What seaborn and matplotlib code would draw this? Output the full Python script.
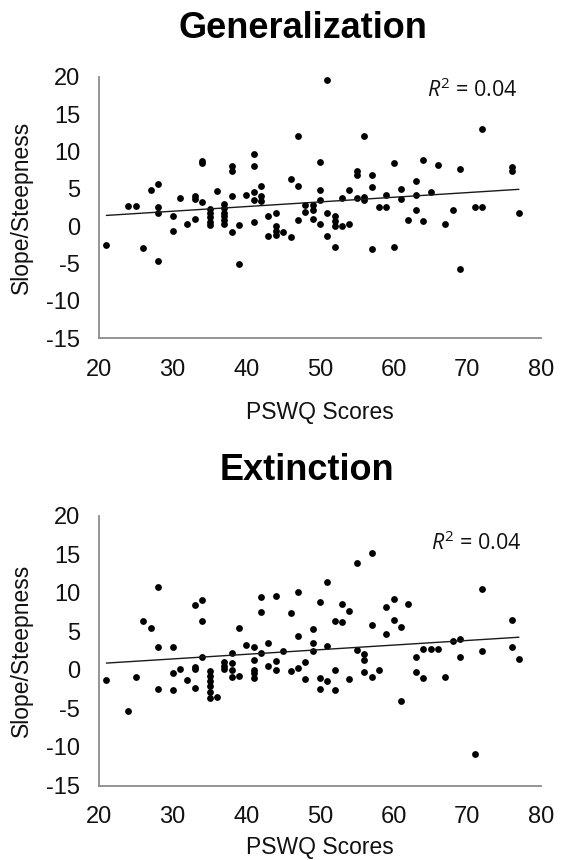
import numpy as np
import pandas as pd
import matplotlib
matplotlib.use("Agg")
import matplotlib.pyplot as plt
import seaborn as sns

# ---- data ----
gen_x = [21, 24, 25, 26, 27, 28, 28, 28, 28, 30, 30, 31, 32, 33, 33, 33, 34, 34, 34,
         35, 35, 35, 35, 35, 36, 37, 37, 37, 37, 37, 37, 38, 38, 38, 38, 39, 39, 40,
         41, 41, 41, 41, 41, 42, 42, 42, 43, 43, 44, 44, 44, 44, 45, 46, 46, 47, 47,
         47, 48, 48, 49, 49, 49, 50, 50, 50, 50, 51, 51, 51, 52, 52, 52, 52, 53, 53,
         54, 54, 55, 55, 55, 56, 56, 56, 57, 57, 57, 58, 59, 59, 60, 60, 61, 61, 62,
         63, 63, 63, 64, 64, 65, 66, 67, 68, 69, 69, 71, 72, 72, 76, 76, 77]
gen_y = [-2.5, 2.7, 2.7, -2.9, 4.9, 5.6, 2.6, 1.8, -4.6, 1.3, -0.6, 3.8, 0.3, 4.1, 3.7, 1.0, 8.7, 8.4, 3.2,
         2.3, 1.8, 1.2, 0.6, 0.1, 4.7, 3.0, 2.4, 1.8, 1.3, 0.8, 0.3, 8.0, 7.4, 4.1, -0.8, 0.2, -5.1, 4.2,
         9.6, 8.0, 4.6, 3.5, 0.6, 5.4, 4.1, 3.4, 1.4, -1.3, 1.7, 0.0, -0.6, -1.2, -0.8, -1.4, 6.3, 12.0, 5.4,
         0.8, 2.8, 1.9, 2.8, 2.1, 0.9, 8.6, 4.9, 3.5, 0.3, 19.5, 1.7, -1.3, 1.4, 0.7, 0.0, -2.8, 3.8, 0.0,
         4.9, 0.3, 7.4, 6.8, 3.8, 12.0, 3.9, 3.5, 6.8, 5.2, -3.1, 2.5, 4.2, 2.6, 8.5, -2.8, 5.0, 3.7, 0.8,
         6.1, 4.2, 2.1, 8.8, 0.7, 4.6, 8.2, 0.3, 2.1, 7.6, -5.7, 2.6, 13.0, 2.6, 7.9, 7.4, 1.7]

ext_x = [21, 24, 25, 26, 27, 28, 28, 28, 30, 30, 30, 31, 32, 33, 34, 34, 34, 33, 33, 33,
         35, 35, 35, 35, 35, 35, 36, 37, 37, 37, 38, 38, 38, 38, 39, 39, 40, 41, 41, 41,
         41, 41, 42, 42, 42, 43, 43, 44, 44, 44, 45, 46, 46, 47, 47, 47, 48, 48, 49, 49,
         49, 50, 50, 50, 51, 51, 51, 52, 52, 52, 53, 53, 54, 54, 55, 55, 56, 56, 56, 57,
         57, 57, 58, 59, 59, 60, 60, 61, 61, 62, 63, 63, 64, 65, 66, 64, 67, 68, 69, 69,
         71, 72, 72, 76, 76, 77]
ext_y = [-1.35, -5.3, -0.9, 6.3, 5.4, 10.7, 3.0, -2.5, 3.0, -0.4, -2.6, 0.1, -1.3, 8.4, 9.0, 6.3, 1.7, 0.4, 0.1, -2.35,
         -0.1, -0.8, -1.4, -2.1, -2.9, -3.7, -3.5, 1.0, 0.5, 0.1, 2.15, 0.9, 0.0, -0.9, 5.4, -0.75, 3.2, 3.0, 1.3, 0.0,
         -0.4, -1.1, 9.4, 7.5, 2.2, 3.5, 0.5, 9.6, 1.2, 0.0, 2.5, 7.3, -0.2, 10.1, 4.4, 0.25, 1.0, -1.2, 5.3, 3.45,
         2.4, 8.85, -1.1, -2.5, 11.4, 3.1, -1.4, 6.3, 0.0, -2.6, 8.5, 6.25, 7.6, -1.2, 13.8, 2.6, 2.1, 1.3, -0.3, 15.1,
         5.8, -0.9, -0.05, 8.1, 4.7, 9.2, 6.4, 5.6, -4.0, 8.5, 1.7, -0.3, 2.7, 2.7, 2.7, -1.1, -0.9, 3.75, 4.05, 1.7,
         -10.9, 10.5, 2.45, 6.4, 3.0, 1.4]

titles = ["Generalization", "Extinction"]
r2_labels = ["0.04", "0.04"]
x_ticks = [20, 30, 40, 50, 60, 70, 80]
y_ticks = [-15, -10, -5, 0, 5, 10, 15, 20]
x_label = "PSWQ Scores"
y_label = "Slope/Steepness"

# ---- style ----
sns.set_style("white")
plt.rcParams["font.family"] = ["Liberation Sans", "DejaVu Sans"]
plt.rcParams["mathtext.fontset"] = "custom"
plt.rcParams["mathtext.rm"] = "Open Sans"
plt.rcParams["mathtext.it"] = "Open Sans:italic"

W, H = 562, 860
fig = plt.figure(figsize=(W / 100, H / 100), dpi=100)

# axes rectangles in pixels: (left, top, right, bottom)
rects = [(99, 76.7, 541, 338.3), (99, 515.5, 541, 785.5)]
title_pos = [(303, 38), (307, 479.5)]
r2_pos = [(0.948, 0.922), (0.957, 0.872)]
xlabel_y = [-0.238, -0.188]

spine_col = "#8c8c8c"
datasets = [(gen_x, gen_y), (ext_x, ext_y)]

for i, ((xs, ys), (l, t, r, b)) in enumerate(zip(datasets, rects)):
    ax = fig.add_axes([l / W, 1 - b / H, (r - l) / W, (b - t) / H])
    df = pd.DataFrame({"PSWQ": xs, "Slope": ys})
    sns.regplot(data=df, x="PSWQ", y="Slope", ax=ax, ci=None, color="black",
                scatter_kws=dict(s=24, linewidths=0, alpha=1),
                line_kws=dict(lw=1.0, color="#1a1a1a"))
    ax.set_xlim(20, 80)
    ax.set_ylim(-15, 20)
    ax.set_xticks(x_ticks)
    ax.set_yticks(y_ticks)
    ax.set_xticklabels([str(v) for v in x_ticks])
    ax.set_yticklabels([str(v) for v in y_ticks])
    for s in ["top", "right"]:
        ax.spines[s].set_visible(False)
    for s in ["left", "bottom"]:
        ax.spines[s].set_color(spine_col)
        ax.spines[s].set_linewidth(1.3)
    ax.tick_params(axis="x", direction="out", length=5, width=1.3, color=spine_col,
                   labelsize=17, pad=10, labelcolor="#111111")
    ax.tick_params(axis="y", direction="out", length=6, width=1.3, color=spine_col,
                   labelsize=17, pad=7.5, labelcolor="#111111")
    ax.set_xlabel(x_label, fontsize=16.5, color="#111111", va="top")
    ax.set_ylabel(y_label, fontsize=16.5, color="#111111")
    ax.xaxis.set_label_coords(0.5, xlabel_y[i])
    ax.yaxis.set_label_coords(-0.149, 0.5)
    ax.grid(False)
    ax.text(r2_pos[i][0], r2_pos[i][1], r"$R^{2}$ = " + r2_labels[i],
            transform=ax.transAxes, ha="right", va="baseline",
            fontsize=15.5, family="Open Sans", color="#111111")
    fig.text(title_pos[i][0] / W, 1 - title_pos[i][1] / H, titles[i],
             ha="center", va="baseline", fontsize=26, fontweight="bold", color="black")

fig.savefig("out.png", dpi=100, facecolor="white")
